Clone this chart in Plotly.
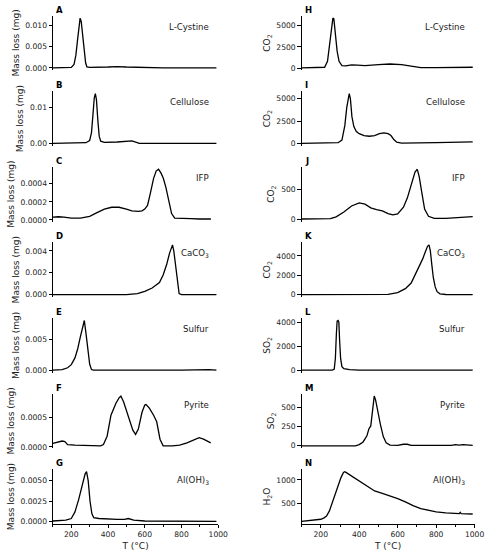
import plotly.graph_objects as go

# ---------------- data ----------------
# Left column: mass loss (mg)
T_A = [100, 180, 200, 215, 225, 235, 242, 248, 254, 262, 270, 278, 285, 300, 400, 450, 500, 600, 700, 990]
V_A = [0, 0, 0.0001, 0.0008, 0.003, 0.007, 0.0105, 0.0118, 0.011, 0.008, 0.004, 0.0012, 0.0002, 0.0001, 0.0002, 0.0003, 0.0002, 0.0001, 0.0, 0.0]

T_B = [100, 250, 280, 300, 310, 318, 325, 331, 337, 345, 352, 360, 380, 450, 500, 530, 555, 570, 990]
V_B = [0, 0, 0.0002, 0.0008, 0.003, 0.008, 0.0125, 0.0137, 0.012, 0.006, 0.002, 0.0006, 0.0003, 0.0004, 0.0007, 0.0007, 0.0003, 0.0, 0.0]

T_C = [100, 130, 160, 200, 250, 300, 340, 380, 420, 460, 500, 530, 565, 585, 600, 615, 630, 648, 662, 675, 688, 701, 715, 728, 738, 746, 763, 800, 850, 900, 960]
V_C = [0.00003, 0.000035, 0.00003, 0.00002, 0.00002, 0.00004, 0.00008, 0.00012, 0.00014, 0.00014, 0.00012, 0.0001, 0.000095, 0.0001, 0.00012, 0.00016, 0.00029, 0.00046, 0.00054, 0.00056, 0.00052, 0.00046, 0.00036, 0.00025, 0.00014, 0.00007, 0.00002, 0.00002, 0.000015, 0.00001, 0.00001]

T_D = [100, 500, 560, 600, 640, 680, 700, 720, 735, 745, 751, 758, 768, 778, 787, 800, 990]
V_D = [0, 0, 0.0001, 0.0003, 0.0006, 0.0011, 0.0018, 0.0028, 0.0038, 0.0044, 0.00455, 0.004, 0.0025, 0.001, 0.0001, 0, 0]

T_E = [100, 150, 180, 200, 220, 235, 250, 262, 271, 280, 290, 300, 310, 320, 800, 880, 910, 950, 990]
V_E = [0, 0.0001, 0.0004, 0.0009, 0.002, 0.0035, 0.0055, 0.0072, 0.0081, 0.006, 0.003, 0.001, 0.0001, 0, 0, 0.0001, 0.00015, 0.0001, 0]

T_F = [100, 130, 150, 165, 180, 220, 280, 340, 360, 375, 395, 416, 443, 460, 470, 485, 510, 535, 550, 565, 585, 600, 607, 625, 648, 665, 683, 700, 750, 790, 830, 870, 896, 920, 959]
V_F = [0.00006, 0.00009, 0.0001, 0.00009, 0.00004, 0.00003, 0.00003, 0.00002, 0.00002, 0.00004, 0.00018, 0.00053, 0.00073, 0.00082, 0.00085, 0.00075, 0.0005, 0.00028, 0.00021, 0.0003, 0.00058, 0.0007, 0.00071, 0.00065, 0.00053, 0.00042, 0.00013, 0.00002, 0.00002, 0.00003, 0.00007, 0.00013, 0.000155, 0.00013, 0.00007]

T_G = [100, 170, 200, 220, 240, 260, 275, 283, 292, 302, 312, 322, 350, 450, 490, 510, 540, 600, 990]
V_G = [0.0001, 0.0002, 0.0004, 0.0012, 0.0027, 0.0045, 0.0058, 0.0061, 0.005, 0.0025, 0.001, 0.0005, 0.0004, 0.0003, 0.0003, 0.0004, 0.0002, 0.0001, 0.00005]

# Right column: evolved gas
T_H = [100, 200, 220, 235, 245, 255, 263, 268, 275, 285, 295, 310, 330, 360, 390, 430, 500, 560, 620, 680, 720, 800, 990]
V_H = [30, 40, 100, 800, 2500, 4800, 5900, 5800, 4300, 2000, 800, 300, 250, 380, 350, 300, 420, 480, 400, 150, 50, 50, 100]

T_I = [100, 250, 290, 310, 325, 335, 343, 348, 354, 362, 372, 385, 400, 425, 452, 480, 505, 528, 550, 565, 580, 595, 620, 700, 800, 990]
V_I = [20, 30, 100, 400, 2000, 4000, 5300, 5560, 5000, 3000, 1900, 1350, 1100, 900, 820, 900, 1100, 1200, 1100, 900, 450, 150, 60, 70, 100, 200]

T_J = [100, 200, 250, 280, 320, 360, 400, 430, 460, 490, 520, 550, 575, 600, 630, 650, 670, 690, 702, 712, 725, 740, 760, 790, 850, 990]
V_J = [5, 5, 10, 40, 120, 220, 270, 250, 190, 160, 140, 95, 75, 90, 200, 350, 570, 780, 825, 700, 450, 170, 50, 15, 15, 45]

T_K = [100, 500, 550, 600, 640, 670, 690, 710, 730, 745, 755, 763, 770, 778, 785, 795, 805, 820, 850, 990]
V_K = [0, 0, 30, 200, 620, 1200, 2000, 2800, 3700, 4500, 5000, 5150, 4500, 3000, 1800, 800, 300, 80, 10, 0]

T_L = [100, 260, 270, 276, 281, 285, 290, 294, 298, 303, 310, 320, 350, 400, 990]
V_L = [0, 0, 100, 1000, 3000, 4100, 4150, 4000, 2500, 1000, 300, 120, 40, 10, 0]

T_M = [100, 380, 400, 420, 440, 450, 460, 470, 478, 485, 495, 510, 525, 540, 560, 600, 630, 650, 670, 880, 900, 920, 940, 990]
V_M = [0, 0, 15, 50, 130, 220, 260, 450, 650, 600, 450, 280, 120, 40, 10, 5, 20, 20, 5, 5, 15, 10, 15, 5]

T_N = [100, 150, 200, 215, 230, 245, 260, 275, 290, 305, 318, 325, 335, 350, 380, 410, 450, 480, 520, 560, 600, 640, 680, 720, 760, 800, 850, 900, 920, 925, 930, 990]
V_N = [130, 150, 175, 200, 240, 350, 530, 720, 900, 1050, 1160, 1175, 1150, 1110, 1020, 940, 850, 770, 720, 670, 610, 540, 460, 400, 360, 330, 310, 295, 295, 320, 295, 285]

letters = ["A", "B", "C", "D", "E", "F", "G", "H", "I", "J", "K", "L", "M", "N"]
names = ["L-Cystine", "Cellulose", "IFP", "CaCO<sub>3</sub>", "Sulfur", "Pyrite", "Al(OH)<sub>3</sub>"] * 2
ylabels = ["Mass loss (mg)"] * 7 + ["CO<sub>2</sub>"] * 4 + ["SO<sub>2</sub>"] * 2 + ["H<sub>2</sub>O"]
Ts = [T_A, T_B, T_C, T_D, T_E, T_F, T_G, T_H, T_I, T_J, T_K, T_L, T_M, T_N]
Vs = [V_A, V_B, V_C, V_D, V_E, V_F, V_G, V_H, V_I, V_J, V_K, V_L, V_M, V_N]
yticks = [
    ([0, 0.005, 0.010], ["0.000", "0.005", "0.010"]),
    ([0, 0.01], ["0.00", "0.01"]),
    ([0, 0.0002, 0.0004], ["0.0000", "0.0002", "0.0004"]),
    ([0, 0.002, 0.004], ["0.000", "0.002", "0.004"]),
    ([0, 0.005], ["0.000", "0.005"]),
    ([0, 0.0005], ["0.0000", "0.0005"]),
    ([0, 0.0025, 0.005], ["0.0000", "0.0025", "0.0050"]),
    ([0, 2500, 5000], ["0", "2500", "5000"]),
    ([0, 2500, 5000], ["0", "2500", "5000"]),
    ([0, 500], ["0", "500"]),
    ([0, 2000, 4000], ["0", "2000", "4000"]),
    ([0, 2000, 4000], ["0", "2000", "4000"]),
    ([0, 250, 500], ["0", "250", "500"]),
    ([500, 1000], ["500", "1000"]),
]
xtick_vals = [200, 400, 600, 800, 1000]

# ---------------- layout geometry ----------------
W, H = 500, 559
col_x = [(54.0, 222.7), (307.7, 484.3)]
row_top0, row_h, row_pitch = 15.7, 55.0, 76.0
FONT = "DejaVu Sans"
INK = "#1a1a1a"
TICK_SIZE = 7.6
TITLE_SIZE = 9

fig = go.Figure()
layout = dict(
    width=W, height=H, margin=dict(l=0, r=0, t=0, b=0),
    paper_bgcolor="white", plot_bgcolor="white", showlegend=False,
    font=dict(family=FONT, color=INK),
)
annotations = []
for k in range(14):
    col, row = divmod(k, 7)
    n = k + 1
    xa = "x" if n == 1 else f"x{n}"
    ya = "y" if n == 1 else f"y{n}"
    top = row_top0 + row * row_pitch
    bot = top + row_h
    x0, x1 = col_x[col]
    fig.add_trace(go.Scatter(x=Ts[k], y=Vs[k], mode="lines", xaxis=xa, yaxis=ya,
                             line=dict(color="black", width=1.3), hoverinfo="skip"))
    vmin, vmax = min(Vs[k]), max(Vs[k])
    pad = 0.05 * (vmax - vmin)
    bottom_row = row == 6
    xaxis = dict(domain=[x0 / W, x1 / W], anchor=ya, range=[100, 1000],
                 showgrid=False, zeroline=False, fixedrange=True)
    if bottom_row:
        xaxis.update(showline=True, linecolor="black", linewidth=0.8, ticks="outside",
                     ticklen=3.5, tickwidth=0.8, tickcolor="black",
                     tickvals=xtick_vals, ticktext=[str(v) for v in xtick_vals],
                     tickfont=dict(size=TICK_SIZE, family=FONT, color=INK),
                     minor=dict(dtick=100, tick0=100, ticks="outside", ticklen=2, tickwidth=0.6, tickcolor="black"),
                     automargin=True,
                     title=dict(text="T (°C)", font=dict(size=TITLE_SIZE, family=FONT, color=INK), standoff=4))
    else:
        xaxis.update(visible=False)
    yaxis = dict(domain=[1 - bot / H, 1 - top / H], anchor=xa,
                 range=[vmin - pad, vmax + pad], showgrid=False, zeroline=False,
                 showline=True, linecolor="black", linewidth=0.8,
                 ticks="outside", ticklen=3.5, tickwidth=0.8, tickcolor="black",
                 tickvals=yticks[k][0], ticktext=yticks[k][1],
                 tickfont=dict(size=TICK_SIZE, family=FONT, color=INK),
                 automargin=True,
                 title=dict(text=ylabels[k], font=dict(size=TITLE_SIZE, family=FONT, color=INK), standoff=4),
                 fixedrange=True)
    layout["xaxis" if n == 1 else f"xaxis{n}"] = xaxis
    layout["yaxis" if n == 1 else f"yaxis{n}"] = yaxis
    annotations.append(dict(text=f"<b>{letters[k]}</b>", xref=f"{xa} domain", yref=f"{ya} domain",
                            x=0.0, y=1.0, xanchor="left", yanchor="middle", xshift=1, yshift=6,
                            showarrow=False, font=dict(size=8.5, family=FONT, color="black")))
    annotations.append(dict(text=names[k], xref=f"{xa} domain", yref=f"{ya} domain",
                            x=0.955, y=0.8, xanchor="right", yanchor="middle",
                            showarrow=False, font=dict(size=8.6, family=FONT, color=INK)))
layout["annotations"] = annotations
fig.update_layout(**layout)
fig.write_html("out.html")
